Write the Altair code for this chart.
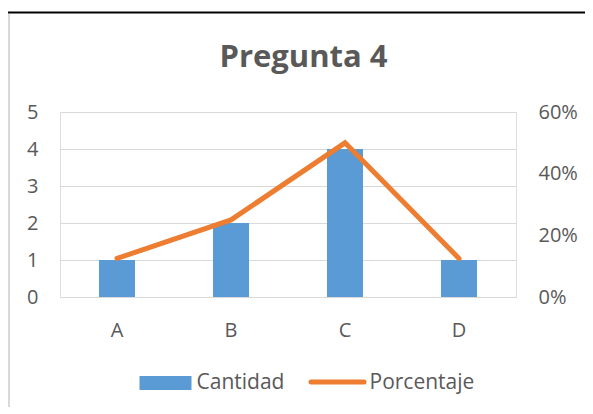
import altair as alt
import pandas as pd

CATEGORIES = ["A", "B", "C", "D"]
CANTIDAD = [1, 2, 4, 1]
PORCENTAJE = [0.125, 0.25, 0.50, 0.125]
SERIES = ["Cantidad", "Porcentaje"]
TITLE = "Pregunta 4"
LEFT_TICKS = [0, 1, 2, 3, 4, 5]
RIGHT_TICKS = [0, 0.2, 0.4, 0.6]

BLUE = "#5b9bd5"
ORANGE = "#ed7d31"
TXT = "#595959"
FONT = "Open Sans"

df = pd.DataFrame({"cat": CATEGORIES, "cant": CANTIDAD, "pct": PORCENTAJE})
leg = pd.DataFrame({"name": SERIES + [TITLE]})

W, H = 456, 185

xenc = alt.X("cat:N", sort=CATEGORIES, title=None,
             scale=alt.Scale(paddingInner=0.684, paddingOuter=0.342),
             axis=alt.Axis(labelAngle=0, ticks=False, domain=False, labelPadding=23,
                           labelFontSize=20, labelColor=TXT, labelFont=FONT, grid=False))

bars = alt.Chart(df).mark_bar(color=BLUE).encode(
    x=xenc,
    y=alt.Y("cant:Q", title=None,
            scale=alt.Scale(domain=[0, 5], nice=False),
            axis=alt.Axis(orient="left", values=LEFT_TICKS, ticks=False, domain=False,
                          labelPadding=22, labelFontSize=20, labelColor=TXT, labelFont=FONT,
                          grid=True, gridColor="#d9d9d9", gridWidth=1)),
)

line = alt.Chart(df).mark_line(color=ORANGE, strokeWidth=5, strokeCap="round").encode(
    x=alt.X("cat:N", sort=CATEGORIES),
    y=alt.Y("pct:Q", title=None,
            scale=alt.Scale(domain=[0, 0.6], nice=False),
            axis=alt.Axis(orient="right", values=RIGHT_TICKS, format=".0%", ticks=False,
                          domain=False, labelPadding=22, labelFontSize=20, labelColor=TXT,
                          labelFont=FONT, grid=False)),
)

base_leg = alt.Chart(leg)
one = lambda s: base_leg.transform_filter(alt.datum.name == s)

leg_rect = one(SERIES[0]).mark_rect(color=BLUE).encode(
    x=alt.value(79.5), x2=alt.value(131.5), y=alt.value(264), y2=alt.value(278))
leg_t1 = one(SERIES[0]).mark_text(
    align="left", baseline="middle", fontSize=21, font=FONT, color=TXT).encode(
    x=alt.value(136.5), y=alt.value(270.5), text="name:N")
leg_line = one(SERIES[1]).mark_rule(
    color=ORANGE, strokeWidth=5, strokeCap="round").encode(
    x=alt.value(251), x2=alt.value(304), y=alt.value(270))
leg_t2 = one(SERIES[1]).mark_text(
    align="left", baseline="middle", fontSize=21, font=FONT, color=TXT).encode(
    x=alt.value(309.5), y=alt.value(270.5), text="name:N")

title = one(TITLE).mark_text(
    align="center", baseline="alphabetic", fontSize=31, font=FONT, fontWeight="bold",
    color=TXT).encode(x=alt.value(243.5), y=alt.value(-45), text="name:N")

# frame decorations
frame_top = one(SERIES[0]).mark_rule(color="#000000", strokeWidth=2).encode(
    x=alt.value(-52), x2=alt.value(525), y=alt.value(-99.5))
frame_left = one(SERIES[0]).mark_rule(color="#d9d9d9", strokeWidth=2).encode(
    x=alt.value(-51), y=alt.value(-98), y2=alt.value(300))

chart = alt.layer(bars, line, leg_rect, leg_t1, leg_line, leg_t2, title,
                  frame_top, frame_left).resolve_scale(
    y="independent"
).properties(
    width=W, height=H,
    padding={"left": 52, "top": 104, "right": 69, "bottom": 110},
    autosize=alt.AutoSizeParams(type="none"),
).configure_view(stroke=None).configure(background="white")

chart.save("out.html", embed_options={"renderer": "svg", "actions": False})
